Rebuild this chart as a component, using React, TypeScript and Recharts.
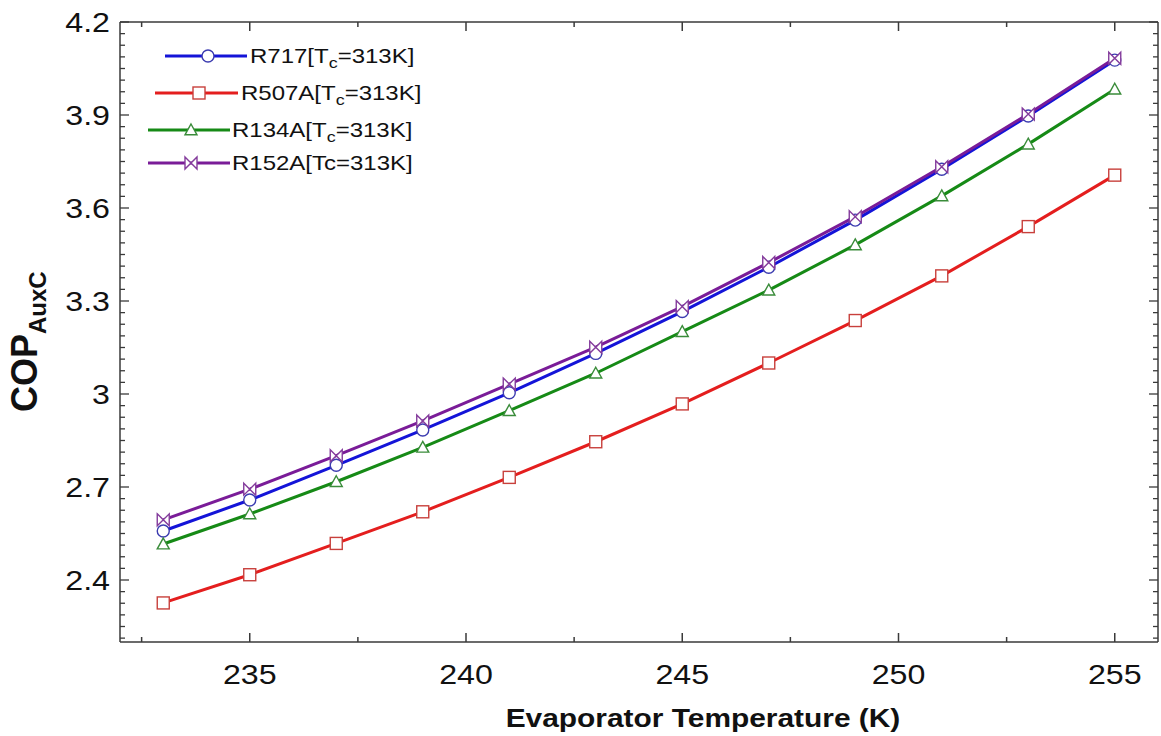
import React from 'react';
import { LineChart, Line, XAxis, YAxis, Legend } from 'recharts';

// Evaporator temperature (K)
const temperatures = [233, 235, 237, 239, 241, 243, 245, 247, 249, 251, 253, 255];
// COP_AuxC per refrigerant
const copR717 = [2.558, 2.658, 2.770, 2.884, 3.004, 3.131, 3.266, 3.409, 3.561, 3.725, 3.897, 4.077];
const copR507A = [2.326, 2.417, 2.518, 2.620, 2.731, 2.846, 2.968, 3.100, 3.237, 3.381, 3.540, 3.706];
const copR134A = [2.516, 2.613, 2.717, 2.828, 2.946, 3.067, 3.201, 3.335, 3.481, 3.639, 3.806, 3.983];
const copR152A = [2.594, 2.693, 2.801, 2.913, 3.032, 3.151, 3.282, 3.424, 3.572, 3.733, 3.903, 4.083];

const xMajorTicks = [235, 240, 245, 250, 255];
const xMinorTicks = [232.5, 237.5, 242.5, 247.5, 252.5];
const yMajorTicks = [2.4, 2.7, 3, 3.3, 3.6, 3.9, 4.2];
const yMinorDivisions = 8;
const xDomain = [232, 256];
const yDomain = [2.2, 4.2];

const seriesKeys = ['r717', 'r507a', 'r134a', 'r152a'];
const seriesNames = ['R717', 'R507A', 'R134A', 'R152A'];
const seriesColors = ['#1414d8', '#e41e1e', '#168a16', '#7a1c98'];
const markerColors = ['#3c3cb0', '#c8403c', '#3a8c3a', '#843c9c'];
const seriesShapes = ['circle', 'square', 'triangle', 'bowtie'];

const data = temperatures.map((t, i) => ({
  T: t,
  r717: copR717[i],
  r507a: copR507A[i],
  r134a: copR134A[i],
  r152a: copR152A[i],
}));

const yStep = (yMajorTicks[1] - yMajorTicks[0]) / yMinorDivisions;
const yTicks: number[] = [];
{
  let v = yMajorTicks[0];
  while (v - yStep >= yDomain[0] - 1e-9) v -= yStep;
  while (v <= yDomain[1] + 1e-9) {
    yTicks.push(Math.round(v * 10000) / 10000);
    v += yStep;
  }
}
const xTicks = [...xMajorTicks, ...xMinorTicks].sort((a, b) => a - b);

const isMajor = (v: number, majors: number[]) => majors.some((m) => Math.abs(m - v) < 1e-6);

const FONT = '"Liberation Sans", Arial, sans-serif';
const AXIS_COLOR = '#3a3a3a';
const TEXT_COLOR = '#111';

// chart geometry
const CHART_W = 1161;
const CHART_H = 736;
const MARGIN = { top: 22, right: 3, bottom: 0, left: 0 };
const Y_AXIS_W = 120;
const X_AXIS_H = 94;
const PLOT = {
  left: MARGIN.left + Y_AXIS_W,
  right: CHART_W - MARGIN.right,
  top: MARGIN.top,
  bottom: CHART_H - MARGIN.bottom - X_AXIS_H,
};

const Marker = ({ cx, cy, shape, color }: any) => {
  if (cx == null || cy == null) return null;
  const s = 6;
  if (shape === 'circle') {
    return <circle cx={cx} cy={cy} r={s} fill="#fff" stroke={color} strokeWidth={1.4} />;
  }
  if (shape === 'square') {
    return <rect x={cx - s} y={cy - s} width={2 * s} height={2 * s} fill="#fff" stroke={color} strokeWidth={1.4} />;
  }
  if (shape === 'triangle') {
    return (
      <path
        d={`M${cx},${cy - s} L${cx + s},${cy + s * 0.8} L${cx - s},${cy + s * 0.8} Z`}
        fill="#fff"
        stroke={color}
        strokeWidth={1.4}
      />
    );
  }
  return (
    <path
      d={`M${cx - s},${cy - s} L${cx + s},${cy + s} L${cx + s},${cy - s} L${cx - s},${cy + s} Z`}
      fill="#fff"
      stroke={color}
      strokeWidth={1.4}
    />
  );
};

const BottomTick = (props: any) => {
  const { x, y, payload } = props;
  const v = payload.value;
  const major = isMajor(v, xMajorTicks);
  return (
    <g>
      <line x1={x} x2={x} y1={y} y2={y - (major ? 9 : 5)} stroke={AXIS_COLOR} strokeWidth={1.5} />
      {major && (
        <g transform={`translate(${x},${y + 42}) scale(1.15,1)`}>
          <text x={0} y={0} textAnchor="middle" fontSize={28} fontFamily={FONT} fill={TEXT_COLOR}>
            {String(v)}
          </text>
        </g>
      )}
    </g>
  );
};

const LeftTick = (props: any) => {
  const { x, y, payload } = props;
  const v = payload.value;
  const major = isMajor(v, yMajorTicks);
  return (
    <g>
      <line x1={x} x2={x + (major ? 9 : 5)} y1={y} y2={y} stroke={AXIS_COLOR} strokeWidth={1.3} />
      {major && (
        <g transform={`translate(${x - 10},${y + 10}) scale(1.15,1)`}>
          <text x={0} y={0} textAnchor="end" fontSize={28} fontFamily={FONT} fill={TEXT_COLOR}>
            {String(Math.round(v * 10) / 10)}
          </text>
        </g>
      )}
    </g>
  );
};

// Top and right frame edges (mirror of the axes) drawn as an overlay over the plot rectangle
const FrameOverlay = () => {
  const sx = (v: number) => PLOT.left + ((v - xDomain[0]) / (xDomain[1] - xDomain[0])) * (PLOT.right - PLOT.left);
  const sy = (v: number) => PLOT.bottom - ((v - yDomain[0]) / (yDomain[1] - yDomain[0])) * (PLOT.bottom - PLOT.top);
  return (
    <svg
      width={CHART_W}
      height={CHART_H}
      style={{ position: 'absolute', left: 0, top: 0, pointerEvents: 'none', overflow: 'visible' }}
    >
      <line x1={PLOT.left} x2={PLOT.right} y1={PLOT.top} y2={PLOT.top} stroke={AXIS_COLOR} strokeWidth={1.5} />
      <line x1={PLOT.right} x2={PLOT.right} y1={PLOT.top} y2={PLOT.bottom} stroke={AXIS_COLOR} strokeWidth={1.5} />
      {xTicks.map((t) => (
        <line
          key={`t${t}`}
          x1={sx(t)}
          x2={sx(t)}
          y1={PLOT.top}
          y2={PLOT.top + (isMajor(t, xMajorTicks) ? 9 : 5)}
          stroke={AXIS_COLOR}
          strokeWidth={1.5}
        />
      ))}
      {yTicks.map((t) => (
        <line
          key={`r${t}`}
          x1={PLOT.right}
          x2={PLOT.right - (isMajor(t, yMajorTicks) ? 9 : 5)}
          y1={sy(t)}
          y2={sy(t)}
          stroke={AXIS_COLOR}
          strokeWidth={1.3}
        />
      ))}
    </svg>
  );
};

const XTitle = (props: any) => {
  const vb = props.viewBox || { x: 120, y: 642, width: 1038, height: 94 };
  return (
    <g transform={`translate(${vb.x + vb.width / 2 + 64},${vb.y + 85}) scale(1.15,1)`}>
      <text x={0} y={0} textAnchor="middle" fontSize={26} fontWeight="bold" fontFamily={FONT} fill={TEXT_COLOR}>
        Evaporator Temperature (K)
      </text>
    </g>
  );
};

const YTitle = (props: any) => {
  const vb = props.viewBox || { x: 0, y: 22, width: 120, height: 620 };
  return (
    <g transform={`translate(${vb.x + 37},${vb.y + 390}) rotate(-90)`}>
      <text x={0} y={0} textAnchor="start" fontSize={36} fontWeight="bold" fontFamily={FONT} fill={TEXT_COLOR}>
        <tspan>COP</tspan>
        <tspan fontSize={24} dy={9}>AuxC</tspan>
      </text>
    </g>
  );
};

const legendLayout = [
  { x1: 165, x2: 247, y: 56, mx: 208, tx: 250, sub: true },
  { x1: 155, x2: 238, y: 93, mx: 199, tx: 241, sub: true },
  { x1: 148, x2: 230, y: 130, mx: 191, tx: 232, sub: true },
  { x1: 148, x2: 230, y: 163, mx: 191, tx: 232, sub: false },
];
const LEG_LEFT = 140;
const LEG_TOP = 36;

const LegendContent = () => (
  <svg width={320} height={150} style={{ display: 'block', overflow: 'visible' }}>
    {legendLayout.map((it, i) => {
      const y = it.y - LEG_TOP;
      return (
        <g key={seriesKeys[i]}>
          <line x1={it.x1 - LEG_LEFT} x2={it.x2 - LEG_LEFT} y1={y} y2={y} stroke={seriesColors[i]} strokeWidth={3} />
          <Marker cx={it.mx - LEG_LEFT} cy={y} shape={seriesShapes[i]} color={markerColors[i]} />
          <g transform={`translate(${it.tx - LEG_LEFT},${y + 7}) scale(1.2,1)`}>
            <text x={0} y={0} fontSize={20} fontFamily={FONT} fill={TEXT_COLOR}>
              {it.sub ? (
                <>
                  <tspan>{seriesNames[i]}[T</tspan>
                  <tspan fontSize={15} dy={5}>c</tspan>
                  <tspan dy={-5}>=313K]</tspan>
                </>
              ) : (
                <tspan>{seriesNames[i]}[Tc=313K]</tspan>
              )}
            </text>
          </g>
        </g>
      );
    })}
  </svg>
);

export default function App() {
  return (
    <div style={{ position: 'absolute', left: 0, top: 0, width: CHART_W, height: CHART_H, background: '#fff' }}>
      <LineChart width={CHART_W} height={CHART_H} data={data} margin={MARGIN}>
        <XAxis
          dataKey="T"
          type="number"
          domain={xDomain}
          ticks={xTicks}
          interval={0}
          height={X_AXIS_H}
          tickSize={0}
          tickMargin={0}
          tick={<BottomTick />}
          axisLine={{ stroke: AXIS_COLOR, strokeWidth: 1.5 }}
          tickLine={false}
          label={<XTitle />}
        />
        <YAxis
          type="number"
          domain={yDomain}
          ticks={yTicks}
          interval={0}
          width={Y_AXIS_W}
          tickSize={0}
          tickMargin={0}
          tick={<LeftTick />}
          axisLine={{ stroke: AXIS_COLOR, strokeWidth: 1.5 }}
          tickLine={false}
          label={<YTitle />}
        />
        <Legend
          layout="vertical"
          align="center"
          verticalAlign="middle"
          content={<LegendContent />}
          wrapperStyle={{ left: LEG_LEFT, top: LEG_TOP, width: 320, height: 150 }}
        />
        {seriesKeys.map((k, i) => (
          <Line
            key={k}
            dataKey={k}
            name={seriesNames[i]}
            stroke={seriesColors[i]}
            strokeWidth={3}
            isAnimationActive={false}
            dot={(p: any) => (
              <Marker key={`${k}-${p.index}`} cx={p.cx} cy={p.cy} shape={seriesShapes[i]} color={markerColors[i]} />
            )}
            activeDot={false}
          />
        ))}
      </LineChart>
      <FrameOverlay />
    </div>
  );
}
